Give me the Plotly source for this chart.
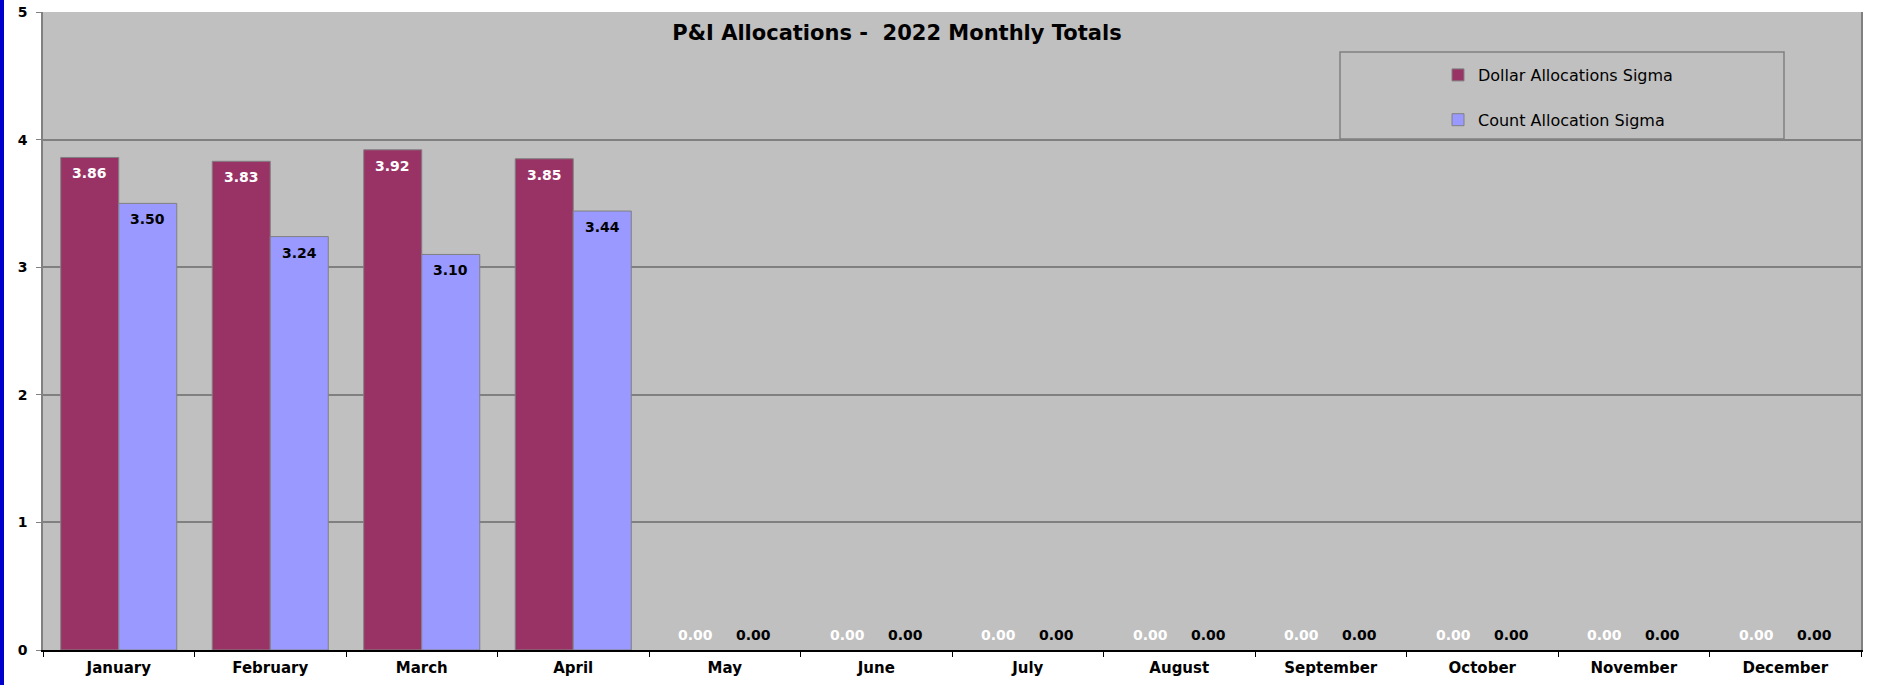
"""P&I allocations chart: monthly sigma totals for 2022, grouped bars."""

import plotly.graph_objects as go

MONTHS = ["January", "February", "March", "April", "May", "June", "July",
          "August", "September", "October", "November", "December"]
DOLLAR_SIGMA = [3.86, 3.83, 3.92, 3.85, 0, 0, 0, 0, 0, 0, 0, 0]
COUNT_SIGMA = [3.50, 3.24, 3.10, 3.44, 0, 0, 0, 0, 0, 0, 0, 0]
Y_TICKS = [0, 1, 2, 3, 4, 5]

COLOR_DOLLAR = "#993366"
COLOR_COUNT = "#9999FF"
COLOR_PLOT = "#C0C0C0"
COLOR_GRID = "#808080"
FONT = "DejaVu Sans, Arial, sans-serif"

W, H = 1878, 685
M = dict(l=43, r=17, t=12, b=35)
PLOT_W = W - M["l"] - M["r"]
PLOT_H = H - M["t"] - M["b"]


def px_x(px):
    """Pixel x -> paper fraction."""
    return (px - M["l"]) / PLOT_W


def px_y(py):
    """Pixel y (from top) -> paper fraction."""
    return (H - M["b"] - py) / PLOT_H


def _labels(values, shift, color):
    out = []
    for month, v in zip(MONTHS, values):
        out.append(dict(
            x=month, y=v, xref="x", yref="y", text=f"{v:.2f}", showarrow=False,
            xshift=shift, yshift=-16 if v > 0 else 15,
            font=dict(family=FONT, size=14, color=color, weight="bold")))
    return out


def _bar(values, name, group, color):
    return go.Bar(x=MONTHS, y=values, name=name, legendgroup=group,
                  marker=dict(color=color, line=dict(
                      color=COLOR_GRID, width=[1 if v > 0 else 0 for v in values])))


fig = go.Figure()
fig.add_trace(_bar(DOLLAR_SIGMA, "Dollar Allocations Sigma", "d", COLOR_DOLLAR))
fig.add_trace(_bar(COUNT_SIGMA, "Count Allocation Sigma", "c", COLOR_COUNT))

bar_px = PLOT_W / len(MONTHS) * (1 - 0.234) / 2
annotations = _labels(DOLLAR_SIGMA, -bar_px / 2, "white") + \
    _labels(COUNT_SIGMA, bar_px / 2, "black")

shapes = [
    # legend frame
    dict(type="rect", xref="paper", yref="paper",
         x0=px_x(1340), x1=px_x(1784), y0=px_y(139), y1=px_y(52),
         line=dict(color=COLOR_GRID, width=1.5), fillcolor=COLOR_PLOT, layer="below"),
    # blue strip on the left edge
    dict(type="rect", xref="paper", yref="paper",
         x0=px_x(0), x1=px_x(4), y0=px_y(H), y1=px_y(0),
         line=dict(width=0), fillcolor="#0000CC"),
]

fig.update_layout(
    width=W, height=H, margin=dict(M, autoexpand=False),
    paper_bgcolor="white", plot_bgcolor=COLOR_PLOT,
    barmode="group", bargap=0.234, bargroupgap=0,
    font=dict(family=FONT, color="black"),
    title=dict(text="P&I Allocations -  2022 Monthly Totals", x=897 / W,
               xanchor="center", y=1 - 33 / H, yanchor="middle",
               font=dict(size=21, weight="bold", family=FONT, color="black")),
    legend=dict(x=px_x(1438), xanchor="left", y=px_y(58), yanchor="top",
                bgcolor="rgba(0,0,0,0)", borderwidth=0, tracegroupgap=21,
                font=dict(size=16, family=FONT, color="black"), itemwidth=30),
    annotations=annotations, shapes=shapes,
)
fig.update_xaxes(showline=True, linecolor="black", linewidth=1.5, automargin=False,
                 ticks="outside", tickson="boundaries", ticklen=5, tickcolor="black",
                 ticklabelstandoff=3,
                 tickfont=dict(size=15, weight="bold", family=FONT, color="black"),
                 showgrid=False)
fig.update_yaxes(range=[0, 5], tickvals=Y_TICKS, showline=True, linecolor=COLOR_GRID,
                 linewidth=1.5, mirror=True, ticks="outside", ticklen=5,
                 tickcolor=COLOR_GRID, gridcolor=COLOR_GRID, gridwidth=1.5,
                 zeroline=False, automargin=False, ticklabelstandoff=6,
                 tickfont=dict(size=14, weight="bold", family=FONT, color="black"))

# drop the page's default body margin so the figure sits at the window origin
fig.write_html("out.html", config={"displayModeBar": False},
               post_script="document.body.style.margin='0';")
